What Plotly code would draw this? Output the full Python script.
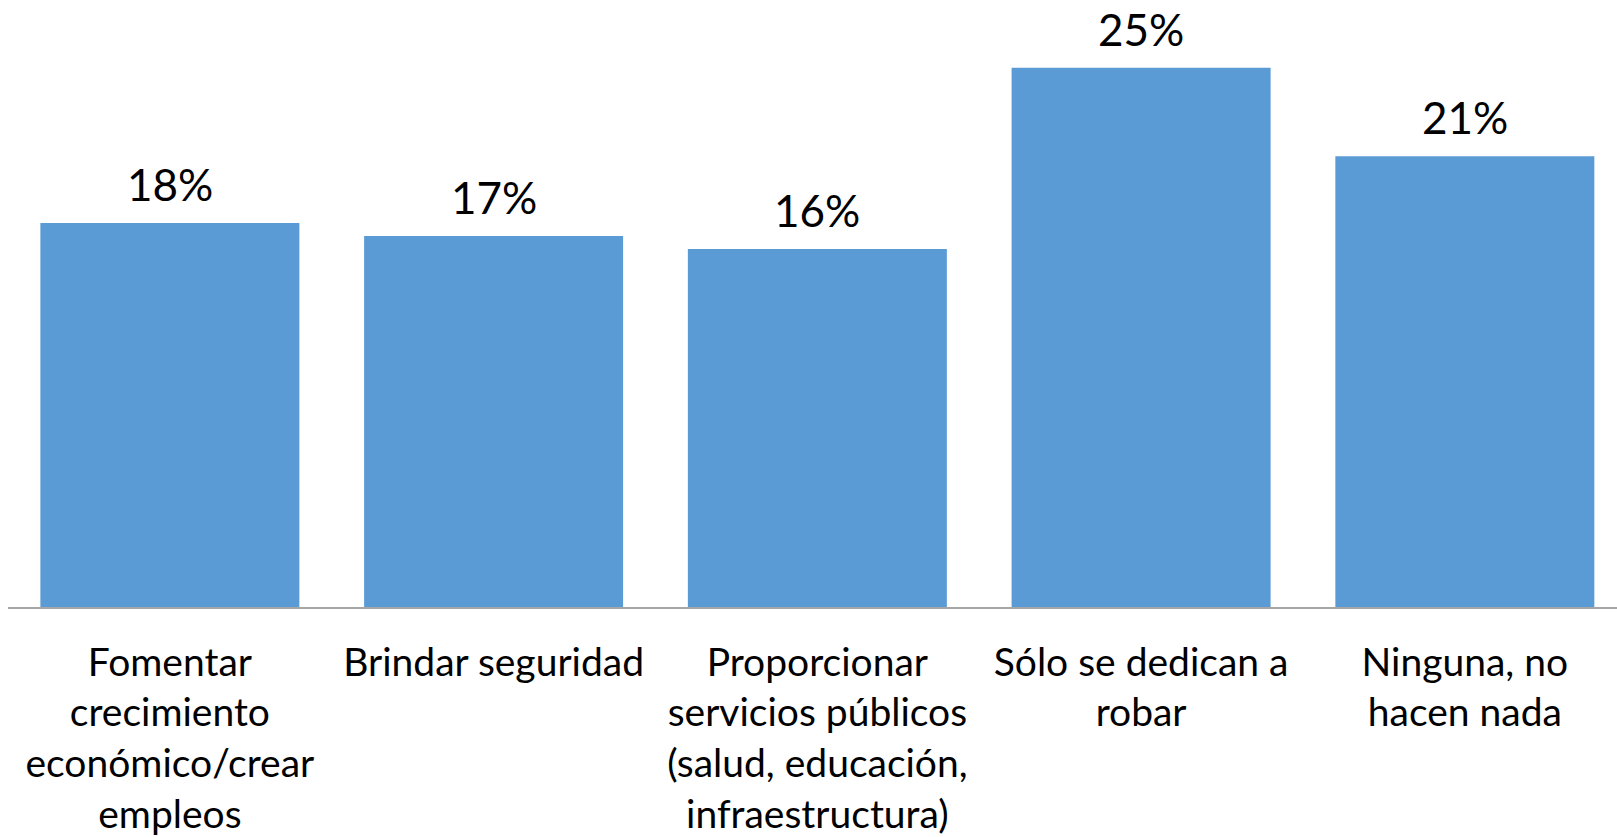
import plotly.graph_objects as go

categories = [
    "Fomentar<br>crecimiento<br>económico/crear<br>empleos",
    "Brindar seguridad",
    "Proporcionar<br>servicios públicos<br>(salud, educación,<br>infraestructura)",
    "Sólo se dedican a<br>robar",
    "Ninguna, no<br>hacen nada",
]
values = [17.8, 17.2, 16.6, 25.0, 20.9]
labels = ["18%", "17%", "16%", "25%", "21%"]

BLUE = "#5B9BD5"
FONT = "Lato"

fig = go.Figure()

fig.add_trace(go.Bar(
    x=list(range(len(categories))),
    y=values,
    marker_color=BLUE,
    marker_line_width=0,
    width=0.8,
    hoverinfo="skip",
))

for i, (v, lab) in enumerate(zip(values, labels)):
    fig.add_annotation(
        x=i, y=v, text=lab,
        showarrow=False,
        yanchor="bottom",
        yshift=11,
        font=dict(family=FONT, size=44, color="black"),
    )

fig.update_layout(
    width=1617,
    height=837,
    margin=dict(l=8, r=0, t=0, b=230),
    plot_bgcolor="white",
    paper_bgcolor="white",
    showlegend=False,
    bargap=0.2,
    xaxis=dict(
        tickmode="array",
        tickvals=list(range(len(categories))),
        ticktext=categories,
        range=[-0.5, 4.47],
        showgrid=False,
        zeroline=False,
        showline=True,
        linecolor="#A6A6A6",
        linewidth=1.5,
        ticks="",
        tickfont=dict(family=FONT, size=39, color="black"),
        ticklabelstandoff=20,
    ),
    yaxis=dict(
        range=[0, 28.14],
        visible=False,
        fixedrange=True,
    ),
)

# drop the default body margin so the figure fills the window exactly
fig.write_html(
    "out.html",
    config={"displayModeBar": False},
    post_script="document.body.style.margin='0';",
)
